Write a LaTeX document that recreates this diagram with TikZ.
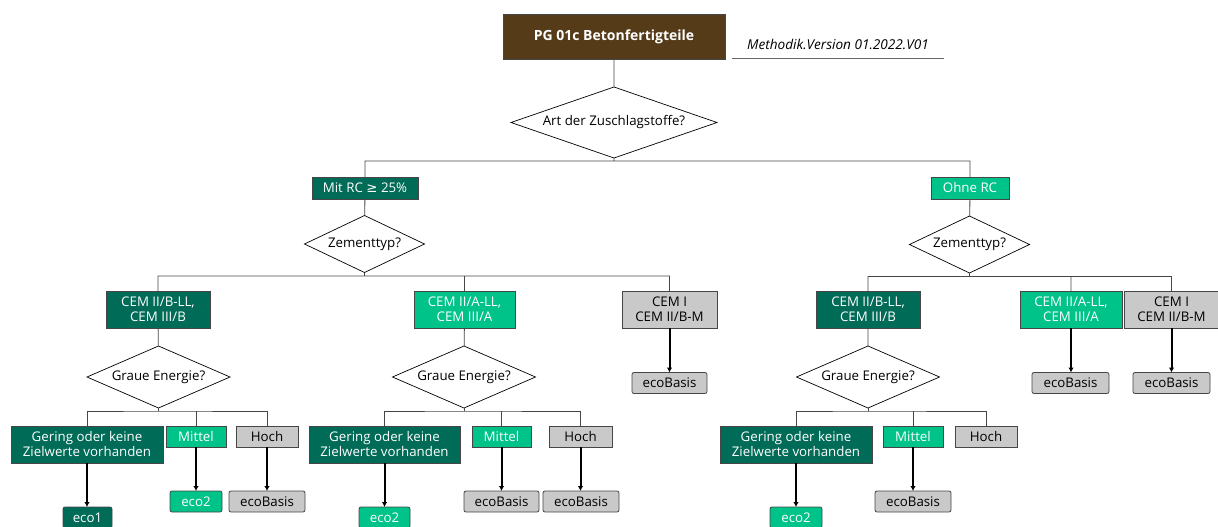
\documentclass[tikz,border=0pt]{standalone}
\usepackage{fontspec}
\setmainfont{Open Sans}
\newfontfamily\symfont{DejaVu Sans}
\usetikzlibrary{
    shapes.geometric,
    arrows.meta,
    positioning
}
\definecolor{pgbrown}{RGB}{85,59,24}
\definecolor{ecodark}{RGB}{0,107,87}
\definecolor{ecolight}{RGB}{0,195,137}
\definecolor{ecogray}{RGB}{201,201,201}
\definecolor{boxline}{RGB}{70,70,70}

\begin{document}
\begin{tikzpicture}[x=1pt,y=-1pt,
    font=\fontsize{13.3}{15}\selectfont,
    box/.style={draw=boxline,line width=0.8pt,align=center,inner sep=0pt,outer sep=0pt},
    dark/.style={box,fill=ecodark,text=white},
    light/.style={box,fill=ecolight,text=white},
    grey/.style={box,fill=ecogray,text=black},
    res/.style={rounded corners=2pt,minimum height=21pt},
    ask/.style={diamond,draw=black,line width=0.7pt,inner sep=0pt,outer sep=0pt},
    link/.style={draw=boxline,line width=0.8pt},
    arr/.style={line width=2pt,-{Latex[length=5pt,width=5.5pt]}}]
                        \useasboundingbox (0,0) rectangle (1218,527);

                        % head
                        \node[box,fill=pgbrown,text=white,font=\fontsize{14}{16}\selectfont\bfseries,
                            minimum width=222pt,minimum height=45pt] (pg) at (614,36.5) {PG 01c Betonfertigteile};
                        \node[inner sep=0pt,minimum width=212pt,minimum height=28pt,
                            font=\fontsize{13.6}{15}\selectfont\itshape] (meth) at (838,44) {Methodik.Version 01.2022.V01};
                        \draw[black!60,line width=0.8pt] (meth.south west) -- (meth.south east);

                        \node[ask,aspect=2.9,minimum width=206pt,minimum height=71pt] (art) at (614,122.5) {Art der Zuschlagstoffe?};
                        \node[dark,minimum width=106pt,minimum height=22pt] (mrc) at (365,188) {Mit RC {\symfont ≥} 25\%};
                        \node[light,minimum width=78pt,minimum height=22pt] (orc) at (970,188) {Ohne RC};

                        \node[ask,aspect=2.1,minimum width=120pt,minimum height=57pt] (zl) at (364.5,244) {Zementtyp?};
                        \node[ask,aspect=2.1,minimum width=120pt,minimum height=57pt] (zr) at (969.5,244.5) {Zementtyp?};

                        % cement types
                        \node[dark,minimum width=104pt,minimum height=37pt] (cl1) at (158,309.5) {CEM II/B-LL,\\CEM III/B};
                        \node[light,minimum width=101pt,minimum height=37pt] (cl2) at (464.5,309.5) {CEM II/A-LL,\\CEM III/A};
                        \node[grey,minimum width=95pt,minimum height=37pt] (cl3) at (669.5,309.5) {CEM I\\CEM II/B-M};
                        \node[dark,minimum width=104pt,minimum height=37pt] (cr1) at (868,309.5) {CEM II/B-LL,\\CEM III/B};
                        \node[light,minimum width=102pt,minimum height=37pt] (cr2) at (1071,309.5) {CEM II/A-LL,\\CEM III/A};
                        \node[grey,minimum width=95pt,minimum height=37pt] (cr3) at (1171.5,309.5) {CEM I\\CEM II/B-M};

                        \node[grey,res,minimum width=75pt] (el3) at (669.5,383) {ecoBasis};
                        \node[grey,res,minimum width=77pt] (er2) at (1070.5,383) {ecoBasis};
                        \node[grey,res,minimum width=77pt] (er3) at (1171.5,383) {ecoBasis};

                        % grey energy
                        \node[ask,aspect=2.3,minimum width=143pt,minimum height=62pt] (gl) at (158.5,377) {Graue Energie?};
                        \node[ask,aspect=2.3,minimum width=143pt,minimum height=62pt] (gm) at (464,377) {Graue Energie?};
                        \node[ask,aspect=2.3,minimum width=143pt,minimum height=62pt] (gr) at (868,377) {Graue Energie?};

                        \node[dark,minimum width=152pt,minimum height=37pt] (gl1) at (87,444.5) {Gering oder keine\\Zielwerte vorhanden};
                        \node[light,minimum width=60pt,minimum height=21pt] (gl2) at (196,436.5) {Mittel};
                        \node[grey,minimum width=62pt,minimum height=21pt] (gl3) at (267,436.5) {Hoch};
                        \node[dark,minimum width=151pt,minimum height=37pt] (gm1) at (384.5,444.5) {Gering oder keine\\Zielwerte vorhanden};
                        \node[light,minimum width=59pt,minimum height=21pt] (gm2) at (501.5,436.5) {Mittel};
                        \node[grey,minimum width=63pt,minimum height=21pt] (gm3) at (580.5,436.5) {Hoch};
                        \node[dark,minimum width=152pt,minimum height=37pt] (gr1) at (796,444.5) {Gering oder keine\\Zielwerte vorhanden};
                        \node[light,minimum width=60pt,minimum height=21pt] (gr2) at (913,436.5) {Mittel};
                        \node[grey,minimum width=62pt,minimum height=21pt] (gr3) at (986,436.5) {Hoch};

                        % labels
                        \node[dark,res,minimum width=49pt] (ll1) at (87.5,517.5) {eco1};
                        \node[light,res,minimum width=52pt] (ll2) at (196,501.5) {eco2};
                        \node[grey,res,minimum width=76pt] (ll3) at (267,501.5) {ecoBasis};
                        \node[light,res,minimum width=51pt] (lm1) at (384.5,517.5) {eco2};
                        \node[grey,res,minimum width=75pt] (lm2) at (501.5,501.5) {ecoBasis};
                        \node[grey,res,minimum width=76pt] (lm3) at (581,501.5) {ecoBasis};
                        \node[light,res,minimum width=52pt] (lr1) at (796,517.5) {eco2};
                        \node[grey,res,minimum width=76pt] (lr2) at (913,501.5) {ecoBasis};

                        \draw[link]
                        (pg) -- (art)
                        (art.south) -- ++(0,3) coordinate (ab)
                        (mrc.north) |- (ab) -| (orc.north)
                        (mrc) -- (zl)
                        (orc) -- (zr)
                        (zl.south) -- ++(0,3.5) coordinate (zlb)
                        (cl1.north) |- (zlb) -| (cl3.north)
                        (zlb -| cl2.north) -- (cl2.north)
                        (zr.south) -- ++(0,3.5) coordinate (zrb)
                        (cr1.north) |- (zrb) -| (cr3.north)
                        (zrb -| cr2.north) -- (cr2.north)
                        (cl1) -- (gl)
                        (cl2) -- (gm)
                        (cr1) -- (gr);

                        \foreach \g/\a/\b/\c in {gl/gl1/gl2/gl3, gm/gm1/gm2/gm3, gr/gr1/gr2/gr3}
                            \draw[link]
                            (\g.south) -- ++(0,3) coordinate (\g b)
                            (\a.north) |- (\g b) -| (\c.north)
                            (\g b -| \b.north) -- (\b.north);

                        \foreach \a/\b in {cl3/el3, cr2/er2, cr3/er3, gl1/ll1, gl2/ll2, gl3/ll3,
                                gm1/lm1, gm2/lm2, gm3/lm3, gr1/lr1, gr2/lr2}
                            \draw[arr] (\a.south) -- (\a.south |- \b.north);
                    \end{tikzpicture}
\end{document}
